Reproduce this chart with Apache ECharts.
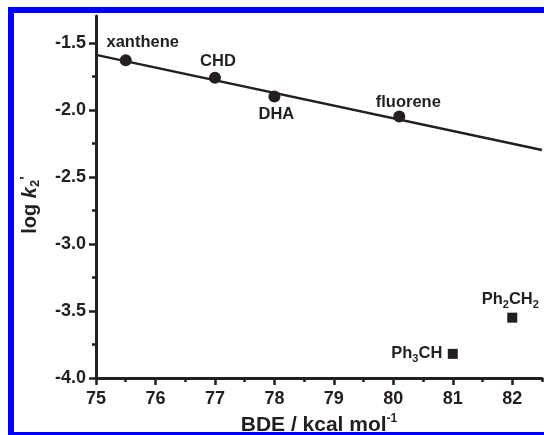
<!DOCTYPE html>
<html>
<head>
<meta charset="utf-8">
<script src="https://cdn.jsdelivr.net/npm/echarts@6/dist/echarts.min.js"></script>
<style>
html, body { margin: 0; padding: 0; background: #fff; overflow: hidden; width: 544px; height: 435px; }
#chart { position: absolute; left: 0; top: 0; width: 544px; height: 435px; }
.bar { position: absolute; background: #0000ff; pointer-events: none; }
#barTop { left: 8px; top: 7px; width: 536px; height: 6px; }
#barLeft { left: 8px; top: 7px; width: 6px; height: 428px; }
#barBottom { left: 8px; top: 432px; width: 536px; height: 3px; }
</style>
</head>
<body>
<div id="chart"></div>
<div class="bar" id="barTop"></div>
<div class="bar" id="barLeft"></div>
<div class="bar" id="barBottom"></div>
<script>
// circles (on the fit line)
var circleNames = ["xanthene", "CHD", "DHA", "fluorene"];
var circleBde = [75.5, 77.0, 78.0, 80.1];
var circleLogK = [-1.63, -1.76, -1.90, -2.05];
// squares (off the line)
var squareNames = ["Ph{s|3}CH", "Ph{s|2}CH{s|2}"];
var squareBde = [81.0, 82.0];
var squareLogK = [-3.82, -3.55];
// linear fit
var fitBde = [75.0, 82.5];
var fitLogK = [-1.59, -2.30];
// ticks
var xTicks = [75, 76, 77, 78, 79, 80, 81, 82];
var xMinorTicks = [75.5, 76.5, 77.5, 78.5, 79.5, 80.5, 81.5, 82.5];
var yTicks = [-4.0, -3.5, -3.0, -2.5, -2.0, -1.5];
var yMinorTicks = [-3.75, -3.25, -2.75, -2.25, -1.75];

var ink = "#231f20";
var font = "'Liberation Sans', Arial, sans-serif";
var labelOffset = {
    xanthene: [17, -18],
    CHD: [3, -16],
    DHA: [2, 18],
    fluorene: [9, -14]
};
var squareOffset = [[-36, 0], [-2, -18]];

var chart = echarts.init(document.getElementById("chart"));

var circleData = circleBde.map(function (x, i) {
    return {
        value: [x, circleLogK[i]],
        label: { formatter: circleNames[i], offset: labelOffset[circleNames[i]] }
    };
});
var squareData = squareBde.map(function (x, i) {
    return {
        value: [x, squareLogK[i]],
        label: { formatter: squareNames[i], offset: squareOffset[i] }
    };
});
var fitData = fitBde.map(function (x, i) { return [x, fitLogK[i]]; });

var pointLabel = {
    show: true,
    position: "inside",
    color: ink,
    fontFamily: font,
    fontWeight: "bold",
    fontSize: 16.5,
    rich: {
        s: { color: ink, fontFamily: font, fontWeight: "bold", fontSize: 11, padding: [10, 0, 0, 0] }
    }
};

var option = {
    animation: false,
    backgroundColor: "transparent",
    grid: { left: 96, right: 2, top: 16, bottom: 57, outerBoundsMode: "none" },
    xAxis: [
        {
            type: "value",
            min: 75,
            max: 82.5,
            interval: 1,
            splitLine: { show: false },
            axisLine: { onZero: false, lineStyle: { color: ink, width: 3 } },
            axisTick: { customValues: xTicks, length: 7, lineStyle: { color: ink, width: 2.5 } },
            axisLabel: {
                customValues: xTicks,
                margin: 12,
                color: ink,
                fontFamily: font,
                fontWeight: "bold",
                fontSize: 18
            },
            name: "BDE / kcal mol{sup|-1}",
            nameLocation: "middle",
            nameGap: 35,
            nameTextStyle: {
                color: ink,
                fontFamily: font,
                fontWeight: "bold",
                fontSize: 21,
                rich: {
                    sup: { color: ink, fontFamily: font, fontWeight: "bold", fontSize: 12, padding: [0, 0, 12, 0] }
                }
            }
        },
        {
            type: "value",
            position: "bottom",
            min: 75,
            max: 82.5,
            interval: 0.5,
            splitLine: { show: false },
            axisLine: { show: false },
            axisTick: { customValues: xMinorTicks, length: 4, lineStyle: { color: ink, width: 2.5 } },
            axisLabel: { show: false }
        }
    ],
    yAxis: [
        {
            type: "value",
            min: -4,
            max: -1.3,
            interval: 0.5,
            splitLine: { show: false },
            axisLine: { onZero: false, lineStyle: { color: ink, width: 3 } },
            axisTick: { customValues: yTicks, length: 7, lineStyle: { color: ink, width: 2.5 } },
            axisLabel: {
                customValues: yTicks,
                margin: 10,
                color: ink,
                fontFamily: font,
                fontWeight: "bold",
                fontSize: 18,
                formatter: function (v) { return v.toFixed(1); }
            },
            name: "log {it|k}{sub|2}{sup|'}",
            nameLocation: "middle",
            nameGap: 53,
            nameTextStyle: {
                color: ink,
                fontFamily: font,
                fontWeight: "bold",
                fontSize: 20,
                padding: [0, 16, 0, 0],
                rich: {
                    it: { color: ink, fontFamily: font, fontWeight: "bold", fontStyle: "italic", fontSize: 20 },
                    sub: { color: ink, fontFamily: font, fontWeight: "bold", fontSize: 13, padding: [10, 0, 0, 0] },
                    sup: { color: ink, fontFamily: font, fontWeight: "bold", fontSize: 15, padding: [0, 0, 10, 0] }
                }
            }
        },
        {
            type: "value",
            position: "left",
            min: -4,
            max: -1.3,
            interval: 0.25,
            splitLine: { show: false },
            axisLine: { show: false },
            axisTick: { customValues: yMinorTicks, length: 4, lineStyle: { color: ink, width: 2.5 } },
            axisLabel: { show: false }
        }
    ],
    series: [
        {
            type: "line",
            data: fitData,
            symbol: "none",
            lineStyle: { color: ink, width: 2.5 },
            z: 2
        },
        {
            type: "scatter",
            data: circleData,
            symbol: "circle",
            symbolSize: 12,
            itemStyle: { color: ink, opacity: 1 },
            label: pointLabel,
            z: 3
        },
        {
            type: "scatter",
            data: squareData,
            symbol: "rect",
            symbolSize: 10,
            itemStyle: { color: ink, opacity: 1 },
            label: pointLabel,
            z: 3
        }
    ]
};

chart.setOption(option);
</script>
</body>
</html>
